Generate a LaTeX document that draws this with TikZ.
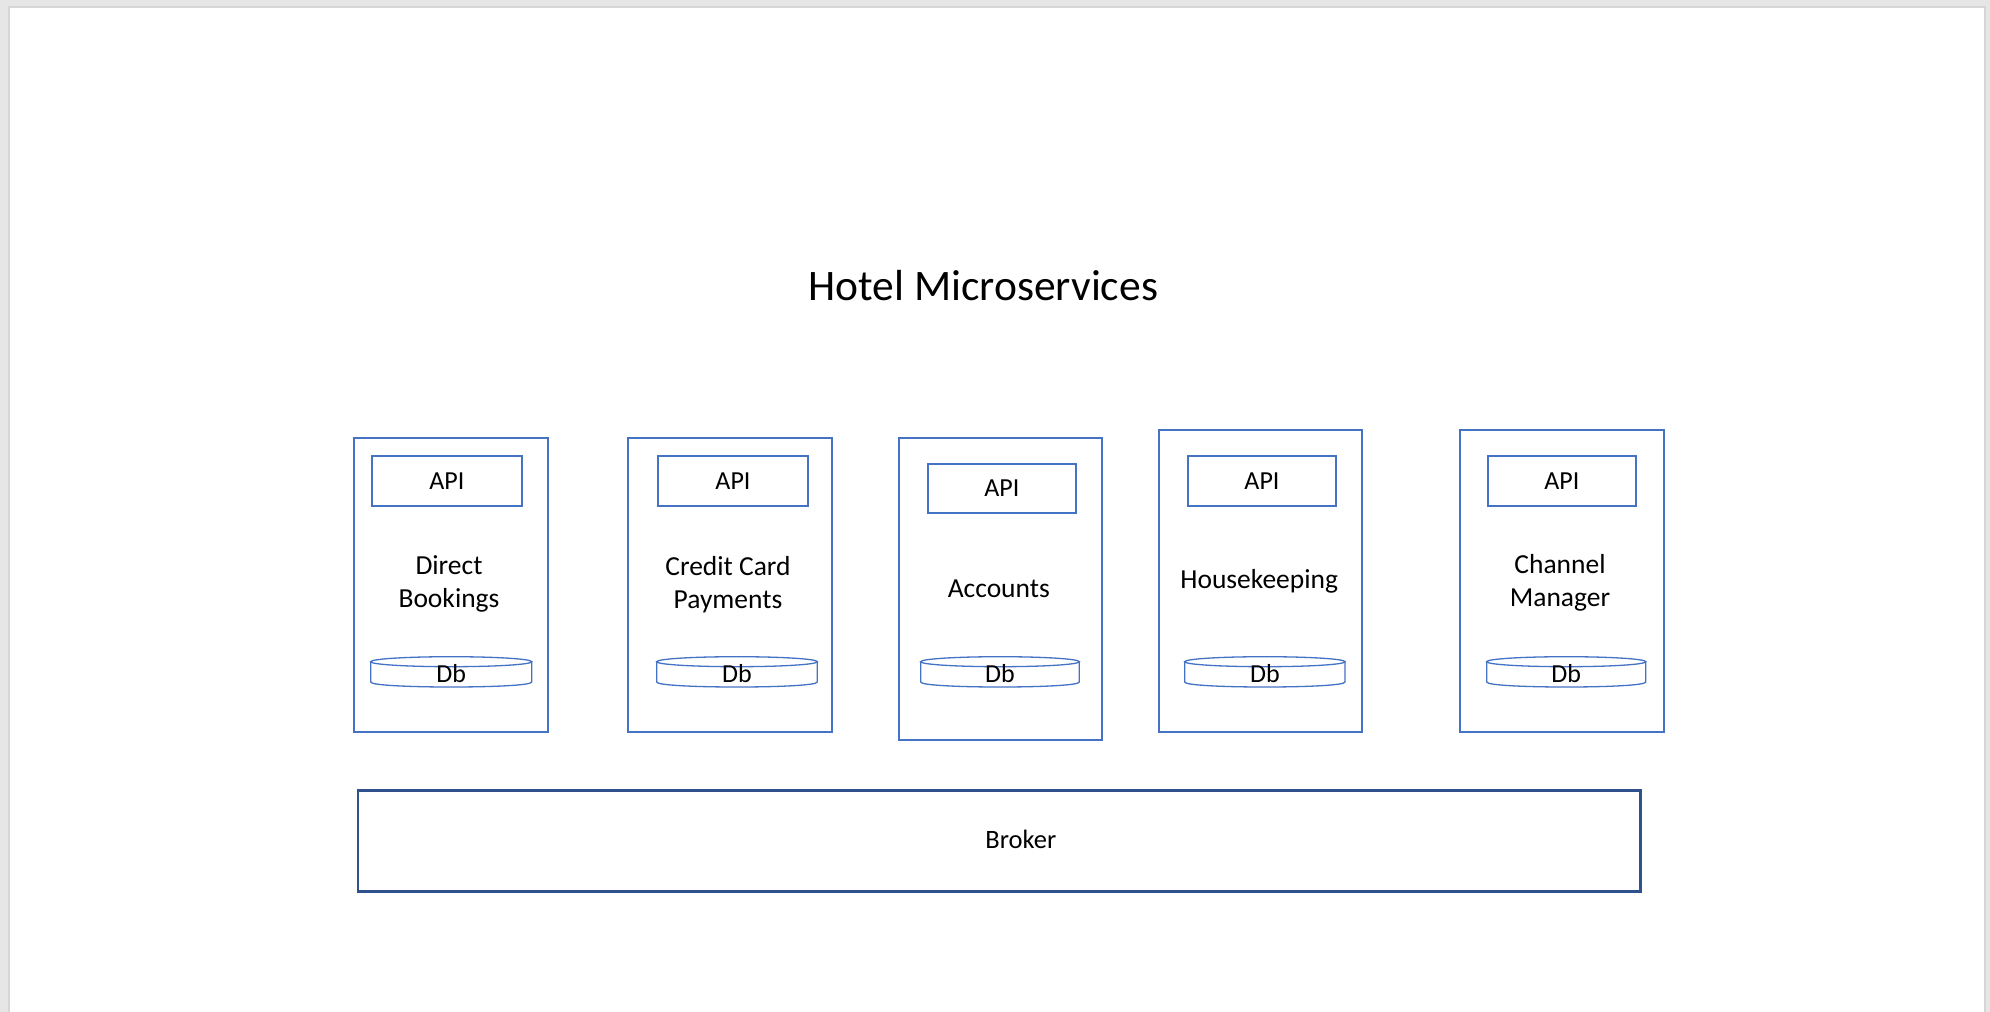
\documentclass[tikz,border=0pt]{standalone}
\usepackage{fontspec}
\setmainfont{Carlito}
\definecolor{boxblue}{HTML}{4472C4}
\definecolor{brokerblue}{HTML}{2F528F}
\definecolor{pagegray}{HTML}{E6E6E6}
\definecolor{edgegray}{HTML}{D6D6D6}
\tikzset{
  svc/.style={draw=boxblue, line width=2pt, fill=white, anchor=north west, inner sep=0pt},
  apibox/.style={draw=boxblue, line width=2pt, anchor=north west, inner sep=0pt, font=\fontsize{26}{33}\selectfont},
  brokerbox/.style={draw=brokerblue, line width=2.6pt, anchor=north west, inner sep=0pt},
  lbl/.style={inner sep=0pt, align=center, font=\fontsize{27.5}{33}\selectfont},
  smalllbl/.style={inner sep=0pt, align=center, font=\fontsize{26}{33}\selectfont},
  dbline/.style={draw=boxblue, line width=1.3pt},
}
\newcommand\rnode[7]{% style, name, L, T, R, B, text
  \node[#1, minimum width={(#5-#3)*1pt}, minimum height={(#6-#4)*1pt}] (#2) at (#3,#4) {#7};}
\newcommand\dbcyl[3]{% name, L, R
  \draw[dbline] ({(#2+#3)/2},661.7) ellipse [x radius={(#3-#2)/2}, y radius=5];
  \draw[dbline] (#2,661.7) -- (#2,682) .. controls (#2,688.67) and (#3,688.67) .. (#3,682) -- (#3,661.7);
  \node[smalllbl] (#1) at ({(#2+#3)/2},674) {Db};}
\begin{document}
\begin{tikzpicture}[x=1pt,y=-1pt]
\useasboundingbox (0,0) rectangle (1990,1012);
\fill[pagegray] (0,0) rectangle (1990,1012);
\fill[edgegray] (8,6) rectangle (1986,1012);
\fill[white] (10,8) rectangle (1983.5,1012);

\node[lbl, font=\fontsize{43.5}{52}\selectfont] (title) at (983.3,285.9) {Hotel Microservices};

% service boxes
\rnode{svc}{s1}{352.7}{436.7}{547.3}{730.7}{}
\rnode{svc}{s2}{626.7}{436.7}{831}{731}{}
\rnode{svc}{s3}{898.3}{436.7}{1101}{739}{}
\rnode{svc}{s4}{1158.3}{429}{1361.3}{731}{}
\rnode{svc}{s5}{1459}{429}{1663.3}{731}{}

% API boxes
\rnode{apibox}{api1}{370.7}{454.7}{521}{504.7}{API}
\rnode{apibox}{api2}{656.7}{454.7}{807.3}{504.7}{API}
\rnode{apibox}{api3}{926.7}{462.7}{1075}{512.3}{API}
\rnode{apibox}{api4}{1186.7}{454.7}{1335.3}{505}{API}
\rnode{apibox}{api5}{1486.7}{454.7}{1635}{505}{API}

% service names
\node[lbl] (n1) at (449,584.3) {Direct\\Bookings};
\node[lbl] (n2) at (728,585) {Credit Card\\Payments};
\node[lbl] (n3) at (998.8,588.3) {Accounts};
\node[lbl] (n4) at (1259.2,581.5) {Housekeeping};
\node[lbl] (n5) at (1560,583) {Channel\\Manager};

% databases
\dbcyl{db1}{370.7}{531.7}
\dbcyl{db2}{656.7}{817.3}
\dbcyl{db3}{920.7}{1079.3}
\dbcyl{db4}{1184.7}{1345}
\dbcyl{db5}{1486.7}{1645.7}

% broker
\rnode{brokerbox}{broker}{356.7}{789}{1639}{890}{}
\node[smalllbl, font=\fontsize{26.5}{33}\selectfont] (brokerlabel) at (1020.8,839.7) {Broker};
\end{tikzpicture}
\end{document}
